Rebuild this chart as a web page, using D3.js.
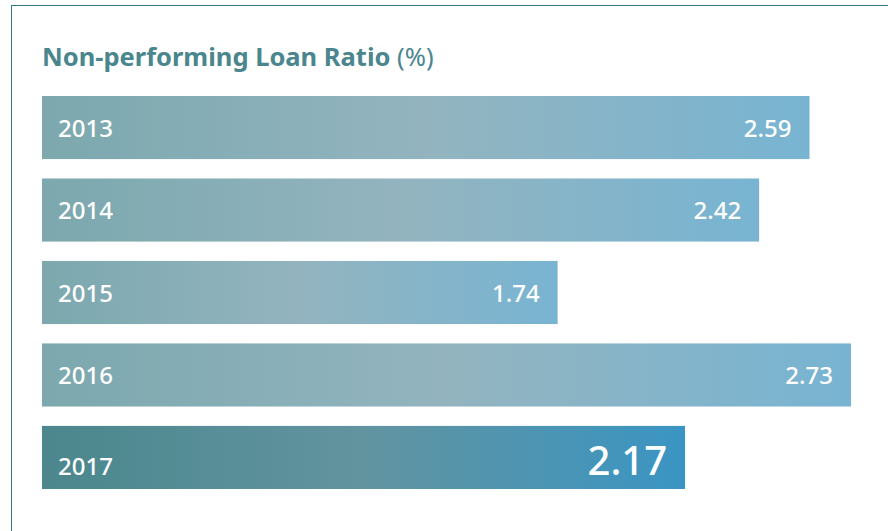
<!DOCTYPE html>
<html>
<head>
<meta charset="utf-8">
<script src="https://cdn.jsdelivr.net/npm/d3@7"></script>
<style>
  html, body { margin: 0; padding: 0; background: #fff; }
  svg { display: block; font-family: "Noto Sans", "Open Sans", sans-serif; }
</style>
</head>
<body>
<svg id="chart" width="888" height="531"></svg>
<script>
const years = ["2013", "2014", "2015", "2016", "2017"];
const ratios = [2.59, 2.42, 1.74, 2.73, 2.17];
const valueLabels = ["2.59", "2.42", "1.74", "2.73", "2.17"];

const svg = d3.select("svg#chart");
const width = 888;
const height = 531;

// frame: only top and left edges are visible
svg.append("line")
    .attr("x1", 11).attr("x2", width)
    .attr("y1", 5.5).attr("y2", 5.5)
    .style("stroke", "#2f7884").style("stroke-width", 1);
svg.append("line")
    .attr("x1", 11.5).attr("x2", 11.5)
    .attr("y1", 5).attr("y2", height)
    .style("stroke", "#2f7884").style("stroke-width", 1);

// title
const title = svg.append("text")
    .attr("x", 42)
    .attr("y", 66)
    .style("font-size", "25.5px")
    .style("fill", "#4a868d");
title.append("tspan").style("font-weight", "bold").text("Non-performing Loan Ratio");
title.append("tspan").style("font-weight", "normal").text(" (%)");

const scaleX = d3.scaleLinear()
    .domain([0, 2.73])
    .range([42, 851]);

const scaleY = d3.scaleBand()
    .domain(years)
    .range([96, 489])
    .paddingInner(0.235)
    .paddingOuter(0);

// gradients
const defs = svg.append("defs");
function makeGradient(id, stops) {
    const g = defs.append("linearGradient")
        .attr("id", id)
        .attr("x1", "0%").attr("x2", "100%")
        .attr("y1", "0%").attr("y2", "0%");
    stops.forEach(s => g.append("stop").attr("offset", s[0]).attr("stop-color", s[1]));
}
makeGradient("gradNormal", [["0%", "#7ca8ae"], ["50%", "#93b4bf"], ["100%", "#78b4d2"]]);
makeGradient("gradLast", [["0%", "#4b878d"], ["50%", "#6294a0"], ["100%", "#3a95c3"]]);

const last = years[years.length - 1];
const data = years.map((y, i) => ({year: y, value: ratios[i], label: valueLabels[i]}));

const rows = svg.selectAll("g.row")
    .data(data)
    .enter()
    .append("g")
    .attr("class", "row");

rows.append("rect")
    .attr("x", scaleX(0))
    .attr("y", d => scaleY(d.year))
    .attr("width", d => scaleX(d.value) - scaleX(0))
    .attr("height", scaleY.bandwidth())
    .style("fill", d => d.year === last ? "url(#gradLast)" : "url(#gradNormal)");

// 2017 row: year sits on the baseline of the big number
const baseOffset = d => d.year === last ? 17.5 : 9;

rows.append("text")
    .attr("x", 58)
    .attr("y", d => scaleY(d.year) + scaleY.bandwidth() / 2 + baseOffset(d))
    .style("font-size", "24px")
    .style("font-weight", "500")
    .style("fill", "#fff")
    .text(d => d.year);

rows.append("text")
    .attr("x", d => scaleX(d.value) - 18)
    .attr("y", d => scaleY(d.year) + scaleY.bandwidth() / 2 + baseOffset(d))
    .attr("text-anchor", "end")
    .style("font-size", d => d.year === last ? "40px" : "24px")
    .style("font-weight", "500")
    .style("fill", "#fff")
    .text(d => d.label);
</script>
</body>
</html>
